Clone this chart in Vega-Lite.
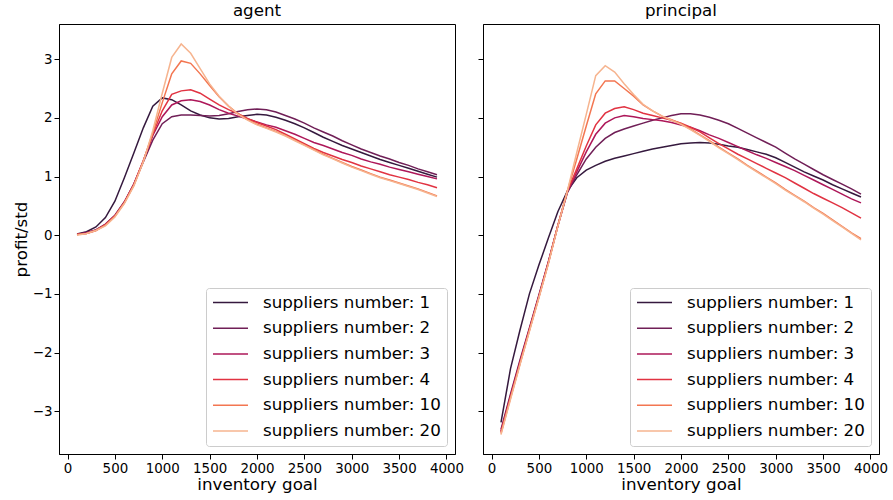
{
"$schema": "https://vega.github.io/schema/vega-lite/v6.json",
"padding": {"left": 12, "top": 2, "right": 5, "bottom": 2},
"bounds": "flush",
"spacing": 28,
"config": {
  "font": "DejaVu Sans",
  "view": {"stroke": "black", "strokeWidth": 1},
  "axis": {"domainColor": "black", "tickColor": "black", "labelColor": "black", "titleColor": "black", "labelFontSize": 13.4, "titleFontSize": 16.7, "titleFontWeight": "normal", "tickSize": 5, "grid": false, "labelFont": "DejaVu Sans", "titleFont": "DejaVu Sans", "labelPadding": 2, "titlePadding": 2, "labelFlush": false, "labelOverlap": false},
  "title": {"fontSize": 16.7, "fontWeight": "normal", "font": "DejaVu Sans", "color": "black", "offset": 4},
  "legend": {"orient": "bottom-right", "offset": 8, "symbolType": "stroke", "symbolSize": 1225, "symbolStrokeWidth": 1.5, "clipHeight": 17, "rowPadding": 7.7, "labelFontSize": 16.7, "labelFont": "DejaVu Sans", "labelColor": "black", "labelOffset": 14, "labelLimit": 400, "padding": 6, "strokeColor": "#cccccc", "fillColor": "rgba(255,255,255,0.8)", "cornerRadius": 3}
},
"data": {"values": [
{"p":"a","n":1,"x":100,"y":0.02},{"p":"a","n":1,"x":200,"y":0.06},{"p":"a","n":1,"x":300,"y":0.14},{"p":"a","n":1,"x":400,"y":0.30},{"p":"a","n":1,"x":500,"y":0.58},{"p":"a","n":1,"x":600,"y":0.98},{"p":"a","n":1,"x":700,"y":1.40},{"p":"a","n":1,"x":800,"y":1.83},{"p":"a","n":1,"x":900,"y":2.20},{"p":"a","n":1,"x":1000,"y":2.34},
{"p":"a","n":1,"x":1100,"y":2.31},{"p":"a","n":1,"x":1200,"y":2.22},{"p":"a","n":1,"x":1300,"y":2.12},{"p":"a","n":1,"x":1400,"y":2.05},{"p":"a","n":1,"x":1500,"y":2.00},{"p":"a","n":1,"x":1600,"y":1.98},{"p":"a","n":1,"x":1700,"y":1.99},{"p":"a","n":1,"x":1800,"y":2.02},{"p":"a","n":1,"x":1900,"y":2.04},{"p":"a","n":1,"x":2000,"y":2.06},
{"p":"a","n":1,"x":2100,"y":2.05},{"p":"a","n":1,"x":2200,"y":2.01},{"p":"a","n":1,"x":2300,"y":1.96},{"p":"a","n":1,"x":2400,"y":1.90},{"p":"a","n":1,"x":2500,"y":1.83},{"p":"a","n":1,"x":2600,"y":1.75},{"p":"a","n":1,"x":2700,"y":1.67},{"p":"a","n":1,"x":2800,"y":1.60},{"p":"a","n":1,"x":2900,"y":1.53},{"p":"a","n":1,"x":3000,"y":1.47},
{"p":"a","n":1,"x":3100,"y":1.41},{"p":"a","n":1,"x":3200,"y":1.35},{"p":"a","n":1,"x":3300,"y":1.29},{"p":"a","n":1,"x":3400,"y":1.24},{"p":"a","n":1,"x":3500,"y":1.19},{"p":"a","n":1,"x":3600,"y":1.14},{"p":"a","n":1,"x":3700,"y":1.09},{"p":"a","n":1,"x":3800,"y":1.04},{"p":"a","n":1,"x":3900,"y":0.99},
{"p":"a","n":2,"x":100,"y":0.01},{"p":"a","n":2,"x":200,"y":0.04},{"p":"a","n":2,"x":300,"y":0.09},{"p":"a","n":2,"x":400,"y":0.19},{"p":"a","n":2,"x":500,"y":0.34},{"p":"a","n":2,"x":600,"y":0.57},{"p":"a","n":2,"x":700,"y":0.87},{"p":"a","n":2,"x":800,"y":1.25},{"p":"a","n":2,"x":900,"y":1.62},{"p":"a","n":2,"x":1000,"y":1.90},
{"p":"a","n":2,"x":1100,"y":2.02},{"p":"a","n":2,"x":1200,"y":2.05},{"p":"a","n":2,"x":1300,"y":2.05},{"p":"a","n":2,"x":1400,"y":2.04},{"p":"a","n":2,"x":1500,"y":2.03},{"p":"a","n":2,"x":1600,"y":2.04},{"p":"a","n":2,"x":1700,"y":2.07},{"p":"a","n":2,"x":1800,"y":2.11},{"p":"a","n":2,"x":1900,"y":2.14},{"p":"a","n":2,"x":2000,"y":2.15},
{"p":"a","n":2,"x":2100,"y":2.14},{"p":"a","n":2,"x":2200,"y":2.10},{"p":"a","n":2,"x":2300,"y":2.04},{"p":"a","n":2,"x":2400,"y":1.98},{"p":"a","n":2,"x":2500,"y":1.91},{"p":"a","n":2,"x":2600,"y":1.83},{"p":"a","n":2,"x":2700,"y":1.76},{"p":"a","n":2,"x":2800,"y":1.69},{"p":"a","n":2,"x":2900,"y":1.61},{"p":"a","n":2,"x":3000,"y":1.54},
{"p":"a","n":2,"x":3100,"y":1.47},{"p":"a","n":2,"x":3200,"y":1.41},{"p":"a","n":2,"x":3300,"y":1.35},{"p":"a","n":2,"x":3400,"y":1.30},{"p":"a","n":2,"x":3500,"y":1.24},{"p":"a","n":2,"x":3600,"y":1.19},{"p":"a","n":2,"x":3700,"y":1.13},{"p":"a","n":2,"x":3800,"y":1.08},{"p":"a","n":2,"x":3900,"y":1.03},
{"p":"a","n":3,"x":100,"y":0.01},{"p":"a","n":3,"x":200,"y":0.04},{"p":"a","n":3,"x":300,"y":0.09},{"p":"a","n":3,"x":400,"y":0.18},{"p":"a","n":3,"x":500,"y":0.33},{"p":"a","n":3,"x":600,"y":0.56},{"p":"a","n":3,"x":700,"y":0.87},{"p":"a","n":3,"x":800,"y":1.27},{"p":"a","n":3,"x":900,"y":1.70},{"p":"a","n":3,"x":1000,"y":2.02},
{"p":"a","n":3,"x":1100,"y":2.22},{"p":"a","n":3,"x":1200,"y":2.29},{"p":"a","n":3,"x":1300,"y":2.31},{"p":"a","n":3,"x":1400,"y":2.28},{"p":"a","n":3,"x":1500,"y":2.22},{"p":"a","n":3,"x":1600,"y":2.14},{"p":"a","n":3,"x":1700,"y":2.08},{"p":"a","n":3,"x":1800,"y":2.03},{"p":"a","n":3,"x":1900,"y":1.98},{"p":"a","n":3,"x":2000,"y":1.93},
{"p":"a","n":3,"x":2100,"y":1.88},{"p":"a","n":3,"x":2200,"y":1.84},{"p":"a","n":3,"x":2300,"y":1.78},{"p":"a","n":3,"x":2400,"y":1.72},{"p":"a","n":3,"x":2500,"y":1.65},{"p":"a","n":3,"x":2600,"y":1.58},{"p":"a","n":3,"x":2700,"y":1.53},{"p":"a","n":3,"x":2800,"y":1.47},{"p":"a","n":3,"x":2900,"y":1.41},{"p":"a","n":3,"x":3000,"y":1.36},
{"p":"a","n":3,"x":3100,"y":1.30},{"p":"a","n":3,"x":3200,"y":1.25},{"p":"a","n":3,"x":3300,"y":1.21},{"p":"a","n":3,"x":3400,"y":1.16},{"p":"a","n":3,"x":3500,"y":1.12},{"p":"a","n":3,"x":3600,"y":1.08},{"p":"a","n":3,"x":3700,"y":1.04},{"p":"a","n":3,"x":3800,"y":1.00},{"p":"a","n":3,"x":3900,"y":0.96},
{"p":"a","n":4,"x":100,"y":0.01},{"p":"a","n":4,"x":200,"y":0.03},{"p":"a","n":4,"x":300,"y":0.08},{"p":"a","n":4,"x":400,"y":0.18},{"p":"a","n":4,"x":500,"y":0.33},{"p":"a","n":4,"x":600,"y":0.56},{"p":"a","n":4,"x":700,"y":0.86},{"p":"a","n":4,"x":800,"y":1.27},{"p":"a","n":4,"x":900,"y":1.72},{"p":"a","n":4,"x":1000,"y":2.12},
{"p":"a","n":4,"x":1100,"y":2.40},{"p":"a","n":4,"x":1200,"y":2.46},{"p":"a","n":4,"x":1300,"y":2.48},{"p":"a","n":4,"x":1400,"y":2.42},{"p":"a","n":4,"x":1500,"y":2.32},{"p":"a","n":4,"x":1600,"y":2.22},{"p":"a","n":4,"x":1700,"y":2.14},{"p":"a","n":4,"x":1800,"y":2.07},{"p":"a","n":4,"x":1900,"y":1.99},{"p":"a","n":4,"x":2000,"y":1.92},
{"p":"a","n":4,"x":2100,"y":1.86},{"p":"a","n":4,"x":2200,"y":1.80},{"p":"a","n":4,"x":2300,"y":1.72},{"p":"a","n":4,"x":2400,"y":1.64},{"p":"a","n":4,"x":2500,"y":1.56},{"p":"a","n":4,"x":2600,"y":1.48},{"p":"a","n":4,"x":2700,"y":1.41},{"p":"a","n":4,"x":2800,"y":1.35},{"p":"a","n":4,"x":2900,"y":1.29},{"p":"a","n":4,"x":3000,"y":1.24},
{"p":"a","n":4,"x":3100,"y":1.18},{"p":"a","n":4,"x":3200,"y":1.13},{"p":"a","n":4,"x":3300,"y":1.08},{"p":"a","n":4,"x":3400,"y":1.03},{"p":"a","n":4,"x":3500,"y":0.99},{"p":"a","n":4,"x":3600,"y":0.95},{"p":"a","n":4,"x":3700,"y":0.90},{"p":"a","n":4,"x":3800,"y":0.86},{"p":"a","n":4,"x":3900,"y":0.81},
{"p":"a","n":10,"x":100,"y":0.01},{"p":"a","n":10,"x":200,"y":0.03},{"p":"a","n":10,"x":300,"y":0.08},{"p":"a","n":10,"x":400,"y":0.17},{"p":"a","n":10,"x":500,"y":0.32},{"p":"a","n":10,"x":600,"y":0.55},{"p":"a","n":10,"x":700,"y":0.85},{"p":"a","n":10,"x":800,"y":1.26},{"p":"a","n":10,"x":900,"y":1.74},{"p":"a","n":10,"x":1000,"y":2.26},
{"p":"a","n":10,"x":1100,"y":2.75},{"p":"a","n":10,"x":1200,"y":2.97},{"p":"a","n":10,"x":1300,"y":2.93},{"p":"a","n":10,"x":1400,"y":2.75},{"p":"a","n":10,"x":1500,"y":2.55},{"p":"a","n":10,"x":1600,"y":2.36},{"p":"a","n":10,"x":1700,"y":2.20},{"p":"a","n":10,"x":1800,"y":2.07},{"p":"a","n":10,"x":1900,"y":1.97},{"p":"a","n":10,"x":2000,"y":1.89},
{"p":"a","n":10,"x":2100,"y":1.83},{"p":"a","n":10,"x":2200,"y":1.77},{"p":"a","n":10,"x":2300,"y":1.70},{"p":"a","n":10,"x":2400,"y":1.62},{"p":"a","n":10,"x":2500,"y":1.54},{"p":"a","n":10,"x":2600,"y":1.46},{"p":"a","n":10,"x":2700,"y":1.38},{"p":"a","n":10,"x":2800,"y":1.31},{"p":"a","n":10,"x":2900,"y":1.24},{"p":"a","n":10,"x":3000,"y":1.17},
{"p":"a","n":10,"x":3100,"y":1.11},{"p":"a","n":10,"x":3200,"y":1.05},{"p":"a","n":10,"x":3300,"y":0.99},{"p":"a","n":10,"x":3400,"y":0.94},{"p":"a","n":10,"x":3500,"y":0.89},{"p":"a","n":10,"x":3600,"y":0.84},{"p":"a","n":10,"x":3700,"y":0.79},{"p":"a","n":10,"x":3800,"y":0.73},{"p":"a","n":10,"x":3900,"y":0.67},
{"p":"a","n":20,"x":100,"y":0.00},{"p":"a","n":20,"x":200,"y":0.03},{"p":"a","n":20,"x":300,"y":0.08},{"p":"a","n":20,"x":400,"y":0.16},{"p":"a","n":20,"x":500,"y":0.31},{"p":"a","n":20,"x":600,"y":0.54},{"p":"a","n":20,"x":700,"y":0.84},{"p":"a","n":20,"x":800,"y":1.25},{"p":"a","n":20,"x":900,"y":1.78},{"p":"a","n":20,"x":1000,"y":2.42},
{"p":"a","n":20,"x":1100,"y":3.03},{"p":"a","n":20,"x":1200,"y":3.26},{"p":"a","n":20,"x":1300,"y":3.10},{"p":"a","n":20,"x":1400,"y":2.84},{"p":"a","n":20,"x":1500,"y":2.58},{"p":"a","n":20,"x":1600,"y":2.37},{"p":"a","n":20,"x":1700,"y":2.20},{"p":"a","n":20,"x":1800,"y":2.06},{"p":"a","n":20,"x":1900,"y":1.96},{"p":"a","n":20,"x":2000,"y":1.88},
{"p":"a","n":20,"x":2100,"y":1.82},{"p":"a","n":20,"x":2200,"y":1.76},{"p":"a","n":20,"x":2300,"y":1.69},{"p":"a","n":20,"x":2400,"y":1.61},{"p":"a","n":20,"x":2500,"y":1.53},{"p":"a","n":20,"x":2600,"y":1.45},{"p":"a","n":20,"x":2700,"y":1.37},{"p":"a","n":20,"x":2800,"y":1.30},{"p":"a","n":20,"x":2900,"y":1.23},{"p":"a","n":20,"x":3000,"y":1.16},
{"p":"a","n":20,"x":3100,"y":1.10},{"p":"a","n":20,"x":3200,"y":1.04},{"p":"a","n":20,"x":3300,"y":0.98},{"p":"a","n":20,"x":3400,"y":0.93},{"p":"a","n":20,"x":3500,"y":0.88},{"p":"a","n":20,"x":3600,"y":0.83},{"p":"a","n":20,"x":3700,"y":0.78},{"p":"a","n":20,"x":3800,"y":0.72},{"p":"a","n":20,"x":3900,"y":0.66},
{"p":"p","n":1,"x":100,"y":-3.19},{"p":"p","n":1,"x":200,"y":-2.28},{"p":"p","n":1,"x":300,"y":-1.62},{"p":"p","n":1,"x":400,"y":-1.00},{"p":"p","n":1,"x":500,"y":-0.51},{"p":"p","n":1,"x":600,"y":-0.05},{"p":"p","n":1,"x":700,"y":0.40},{"p":"p","n":1,"x":800,"y":0.75},{"p":"p","n":1,"x":900,"y":0.98},{"p":"p","n":1,"x":1000,"y":1.11},
{"p":"p","n":1,"x":1100,"y":1.19},{"p":"p","n":1,"x":1200,"y":1.26},{"p":"p","n":1,"x":1300,"y":1.31},{"p":"p","n":1,"x":1400,"y":1.35},{"p":"p","n":1,"x":1500,"y":1.39},{"p":"p","n":1,"x":1600,"y":1.43},{"p":"p","n":1,"x":1700,"y":1.47},{"p":"p","n":1,"x":1800,"y":1.50},{"p":"p","n":1,"x":1900,"y":1.53},{"p":"p","n":1,"x":2000,"y":1.56},
{"p":"p","n":1,"x":2100,"y":1.57},{"p":"p","n":1,"x":2200,"y":1.58},{"p":"p","n":1,"x":2300,"y":1.57},{"p":"p","n":1,"x":2400,"y":1.55},{"p":"p","n":1,"x":2500,"y":1.52},{"p":"p","n":1,"x":2600,"y":1.50},{"p":"p","n":1,"x":2700,"y":1.46},{"p":"p","n":1,"x":2800,"y":1.42},{"p":"p","n":1,"x":2900,"y":1.38},{"p":"p","n":1,"x":3000,"y":1.32},
{"p":"p","n":1,"x":3100,"y":1.24},{"p":"p","n":1,"x":3200,"y":1.16},{"p":"p","n":1,"x":3300,"y":1.08},{"p":"p","n":1,"x":3400,"y":1.01},{"p":"p","n":1,"x":3500,"y":0.94},{"p":"p","n":1,"x":3600,"y":0.86},{"p":"p","n":1,"x":3700,"y":0.79},{"p":"p","n":1,"x":3800,"y":0.72},{"p":"p","n":1,"x":3900,"y":0.65},
{"p":"p","n":2,"x":100,"y":-3.31},{"p":"p","n":2,"x":200,"y":-2.71},{"p":"p","n":2,"x":300,"y":-2.13},{"p":"p","n":2,"x":400,"y":-1.58},{"p":"p","n":2,"x":500,"y":-1.02},{"p":"p","n":2,"x":600,"y":-0.45},{"p":"p","n":2,"x":700,"y":0.16},{"p":"p","n":2,"x":800,"y":0.72},{"p":"p","n":2,"x":900,"y":1.03},{"p":"p","n":2,"x":1000,"y":1.30},
{"p":"p","n":2,"x":1100,"y":1.50},{"p":"p","n":2,"x":1200,"y":1.65},{"p":"p","n":2,"x":1300,"y":1.75},{"p":"p","n":2,"x":1400,"y":1.81},{"p":"p","n":2,"x":1500,"y":1.86},{"p":"p","n":2,"x":1600,"y":1.91},{"p":"p","n":2,"x":1700,"y":1.96},{"p":"p","n":2,"x":1800,"y":2.00},{"p":"p","n":2,"x":1900,"y":2.04},{"p":"p","n":2,"x":2000,"y":2.07},
{"p":"p","n":2,"x":2100,"y":2.07},{"p":"p","n":2,"x":2200,"y":2.05},{"p":"p","n":2,"x":2300,"y":2.01},{"p":"p","n":2,"x":2400,"y":1.96},{"p":"p","n":2,"x":2500,"y":1.90},{"p":"p","n":2,"x":2600,"y":1.82},{"p":"p","n":2,"x":2700,"y":1.74},{"p":"p","n":2,"x":2800,"y":1.66},{"p":"p","n":2,"x":2900,"y":1.58},{"p":"p","n":2,"x":3000,"y":1.50},
{"p":"p","n":2,"x":3100,"y":1.40},{"p":"p","n":2,"x":3200,"y":1.30},{"p":"p","n":2,"x":3300,"y":1.21},{"p":"p","n":2,"x":3400,"y":1.12},{"p":"p","n":2,"x":3500,"y":1.03},{"p":"p","n":2,"x":3600,"y":0.95},{"p":"p","n":2,"x":3700,"y":0.87},{"p":"p","n":2,"x":3800,"y":0.79},{"p":"p","n":2,"x":3900,"y":0.70},
{"p":"p","n":3,"x":100,"y":-3.34},{"p":"p","n":3,"x":200,"y":-2.74},{"p":"p","n":3,"x":300,"y":-2.16},{"p":"p","n":3,"x":400,"y":-1.60},{"p":"p","n":3,"x":500,"y":-1.04},{"p":"p","n":3,"x":600,"y":-0.46},{"p":"p","n":3,"x":700,"y":0.16},{"p":"p","n":3,"x":800,"y":0.74},{"p":"p","n":3,"x":900,"y":1.08},{"p":"p","n":3,"x":1000,"y":1.42},
{"p":"p","n":3,"x":1100,"y":1.72},{"p":"p","n":3,"x":1200,"y":1.91},{"p":"p","n":3,"x":1300,"y":2.00},{"p":"p","n":3,"x":1400,"y":2.04},{"p":"p","n":3,"x":1500,"y":2.02},{"p":"p","n":3,"x":1600,"y":1.99},{"p":"p","n":3,"x":1700,"y":1.97},{"p":"p","n":3,"x":1800,"y":1.95},{"p":"p","n":3,"x":1900,"y":1.92},{"p":"p","n":3,"x":2000,"y":1.88},
{"p":"p","n":3,"x":2100,"y":1.84},{"p":"p","n":3,"x":2200,"y":1.78},{"p":"p","n":3,"x":2300,"y":1.71},{"p":"p","n":3,"x":2400,"y":1.65},{"p":"p","n":3,"x":2500,"y":1.58},{"p":"p","n":3,"x":2600,"y":1.51},{"p":"p","n":3,"x":2700,"y":1.44},{"p":"p","n":3,"x":2800,"y":1.37},{"p":"p","n":3,"x":2900,"y":1.31},{"p":"p","n":3,"x":3000,"y":1.24},
{"p":"p","n":3,"x":3100,"y":1.17},{"p":"p","n":3,"x":3200,"y":1.10},{"p":"p","n":3,"x":3300,"y":1.02},{"p":"p","n":3,"x":3400,"y":0.94},{"p":"p","n":3,"x":3500,"y":0.86},{"p":"p","n":3,"x":3600,"y":0.78},{"p":"p","n":3,"x":3700,"y":0.70},{"p":"p","n":3,"x":3800,"y":0.62},{"p":"p","n":3,"x":3900,"y":0.55},
{"p":"p","n":4,"x":100,"y":-3.36},{"p":"p","n":4,"x":200,"y":-2.76},{"p":"p","n":4,"x":300,"y":-2.18},{"p":"p","n":4,"x":400,"y":-1.61},{"p":"p","n":4,"x":500,"y":-1.05},{"p":"p","n":4,"x":600,"y":-0.47},{"p":"p","n":4,"x":700,"y":0.16},{"p":"p","n":4,"x":800,"y":0.75},{"p":"p","n":4,"x":900,"y":1.13},{"p":"p","n":4,"x":1000,"y":1.52},
{"p":"p","n":4,"x":1100,"y":1.88},{"p":"p","n":4,"x":1200,"y":2.08},{"p":"p","n":4,"x":1300,"y":2.16},{"p":"p","n":4,"x":1400,"y":2.19},{"p":"p","n":4,"x":1500,"y":2.14},{"p":"p","n":4,"x":1600,"y":2.08},{"p":"p","n":4,"x":1700,"y":2.04},{"p":"p","n":4,"x":1800,"y":2.00},{"p":"p","n":4,"x":1900,"y":1.96},{"p":"p","n":4,"x":2000,"y":1.91},
{"p":"p","n":4,"x":2100,"y":1.84},{"p":"p","n":4,"x":2200,"y":1.76},{"p":"p","n":4,"x":2300,"y":1.66},{"p":"p","n":4,"x":2400,"y":1.56},{"p":"p","n":4,"x":2500,"y":1.47},{"p":"p","n":4,"x":2600,"y":1.38},{"p":"p","n":4,"x":2700,"y":1.30},{"p":"p","n":4,"x":2800,"y":1.22},{"p":"p","n":4,"x":2900,"y":1.14},{"p":"p","n":4,"x":3000,"y":1.06},
{"p":"p","n":4,"x":3100,"y":0.98},{"p":"p","n":4,"x":3200,"y":0.89},{"p":"p","n":4,"x":3300,"y":0.80},{"p":"p","n":4,"x":3400,"y":0.71},{"p":"p","n":4,"x":3500,"y":0.63},{"p":"p","n":4,"x":3600,"y":0.55},{"p":"p","n":4,"x":3700,"y":0.47},{"p":"p","n":4,"x":3800,"y":0.38},{"p":"p","n":4,"x":3900,"y":0.29},
{"p":"p","n":10,"x":100,"y":-3.38},{"p":"p","n":10,"x":200,"y":-2.78},{"p":"p","n":10,"x":300,"y":-2.20},{"p":"p","n":10,"x":400,"y":-1.63},{"p":"p","n":10,"x":500,"y":-1.06},{"p":"p","n":10,"x":600,"y":-0.48},{"p":"p","n":10,"x":700,"y":0.16},{"p":"p","n":10,"x":800,"y":0.75},{"p":"p","n":10,"x":900,"y":1.30},{"p":"p","n":10,"x":1000,"y":1.86},
{"p":"p","n":10,"x":1100,"y":2.41},{"p":"p","n":10,"x":1200,"y":2.63},{"p":"p","n":10,"x":1300,"y":2.63},{"p":"p","n":10,"x":1400,"y":2.50},{"p":"p","n":10,"x":1500,"y":2.37},{"p":"p","n":10,"x":1600,"y":2.22},{"p":"p","n":10,"x":1700,"y":2.12},{"p":"p","n":10,"x":1800,"y":2.03},{"p":"p","n":10,"x":1900,"y":1.97},{"p":"p","n":10,"x":2000,"y":1.90},
{"p":"p","n":10,"x":2100,"y":1.81},{"p":"p","n":10,"x":2200,"y":1.71},{"p":"p","n":10,"x":2300,"y":1.61},{"p":"p","n":10,"x":2400,"y":1.50},{"p":"p","n":10,"x":2500,"y":1.40},{"p":"p","n":10,"x":2600,"y":1.30},{"p":"p","n":10,"x":2700,"y":1.19},{"p":"p","n":10,"x":2800,"y":1.09},{"p":"p","n":10,"x":2900,"y":0.99},{"p":"p","n":10,"x":3000,"y":0.89},
{"p":"p","n":10,"x":3100,"y":0.78},{"p":"p","n":10,"x":3200,"y":0.68},{"p":"p","n":10,"x":3300,"y":0.58},{"p":"p","n":10,"x":3400,"y":0.47},{"p":"p","n":10,"x":3500,"y":0.37},{"p":"p","n":10,"x":3600,"y":0.26},{"p":"p","n":10,"x":3700,"y":0.15},{"p":"p","n":10,"x":3800,"y":0.04},{"p":"p","n":10,"x":3900,"y":-0.06},
{"p":"p","n":20,"x":100,"y":-3.40},{"p":"p","n":20,"x":200,"y":-2.80},{"p":"p","n":20,"x":300,"y":-2.21},{"p":"p","n":20,"x":400,"y":-1.64},{"p":"p","n":20,"x":500,"y":-1.07},{"p":"p","n":20,"x":600,"y":-0.49},{"p":"p","n":20,"x":700,"y":0.15},{"p":"p","n":20,"x":800,"y":0.75},{"p":"p","n":20,"x":900,"y":1.41},{"p":"p","n":20,"x":1000,"y":2.06},
{"p":"p","n":20,"x":1100,"y":2.72},{"p":"p","n":20,"x":1200,"y":2.89},{"p":"p","n":20,"x":1300,"y":2.78},{"p":"p","n":20,"x":1400,"y":2.58},{"p":"p","n":20,"x":1500,"y":2.40},{"p":"p","n":20,"x":1600,"y":2.23},{"p":"p","n":20,"x":1700,"y":2.12},{"p":"p","n":20,"x":1800,"y":2.03},{"p":"p","n":20,"x":1900,"y":1.96},{"p":"p","n":20,"x":2000,"y":1.89},
{"p":"p","n":20,"x":2100,"y":1.80},{"p":"p","n":20,"x":2200,"y":1.70},{"p":"p","n":20,"x":2300,"y":1.60},{"p":"p","n":20,"x":2400,"y":1.49},{"p":"p","n":20,"x":2500,"y":1.39},{"p":"p","n":20,"x":2600,"y":1.29},{"p":"p","n":20,"x":2700,"y":1.18},{"p":"p","n":20,"x":2800,"y":1.08},{"p":"p","n":20,"x":2900,"y":0.98},{"p":"p","n":20,"x":3000,"y":0.88},
{"p":"p","n":20,"x":3100,"y":0.77},{"p":"p","n":20,"x":3200,"y":0.67},{"p":"p","n":20,"x":3300,"y":0.57},{"p":"p","n":20,"x":3400,"y":0.46},{"p":"p","n":20,"x":3500,"y":0.36},{"p":"p","n":20,"x":3600,"y":0.25},{"p":"p","n":20,"x":3700,"y":0.14},{"p":"p","n":20,"x":3800,"y":0.03},{"p":"p","n":20,"x":3900,"y":-0.08}
]},
"resolve": {"scale": {"color": "independent"}, "legend": {"color": "independent"}},
"hconcat": [
 {
  "title": "agent",
  "width": 396, "height": 430,
  "transform": [{"filter": "datum.p == 'a'"}],
  "mark": {"type": "line", "strokeWidth": 1.5},
  "encoding": {
    "x": {"field": "x", "type": "quantitative", "scale": {"domain": [-90, 4090], "nice": false, "zero": false}, "axis": {"values": [0,500,1000,1500,2000,2500,3000,3500,4000], "format": "d", "title": "inventory goal"}},
    "y": {"field": "y", "type": "quantitative", "scale": {"domain": [-3.73, 3.60], "nice": false, "zero": false}, "axis": {"values": [-3,-2,-1,0,1,2,3], "format": "d", "title": "profit/std"}},
    "color": {"field": "n", "type": "ordinal", "scale": {"domain": [1,2,3,4,10,20], "range": ["#35193e","#701f57","#ad1759","#e13342","#f37651","#f6b48f"]}, "legend": {"title": null, "labelExpr": "'suppliers number: ' + datum.label"}}
  }
 },
 {
  "title": "principal",
  "width": 396, "height": 430,
  "transform": [{"filter": "datum.p == 'p'"}],
  "mark": {"type": "line", "strokeWidth": 1.5},
  "encoding": {
    "x": {"field": "x", "type": "quantitative", "scale": {"domain": [-90, 4090], "nice": false, "zero": false}, "axis": {"values": [0,500,1000,1500,2000,2500,3000,3500,4000], "format": "d", "title": "inventory goal"}},
    "y": {"field": "y", "type": "quantitative", "scale": {"domain": [-3.73, 3.60], "nice": false, "zero": false}, "axis": {"values": [-3,-2,-1,0,1,2,3], "labels": false, "title": null}},
    "color": {"field": "n", "type": "ordinal", "scale": {"domain": [1,2,3,4,10,20], "range": ["#35193e","#701f57","#ad1759","#e13342","#f37651","#f6b48f"]}, "legend": {"title": null, "labelExpr": "'suppliers number: ' + datum.label"}}
  }
 }
]
}
